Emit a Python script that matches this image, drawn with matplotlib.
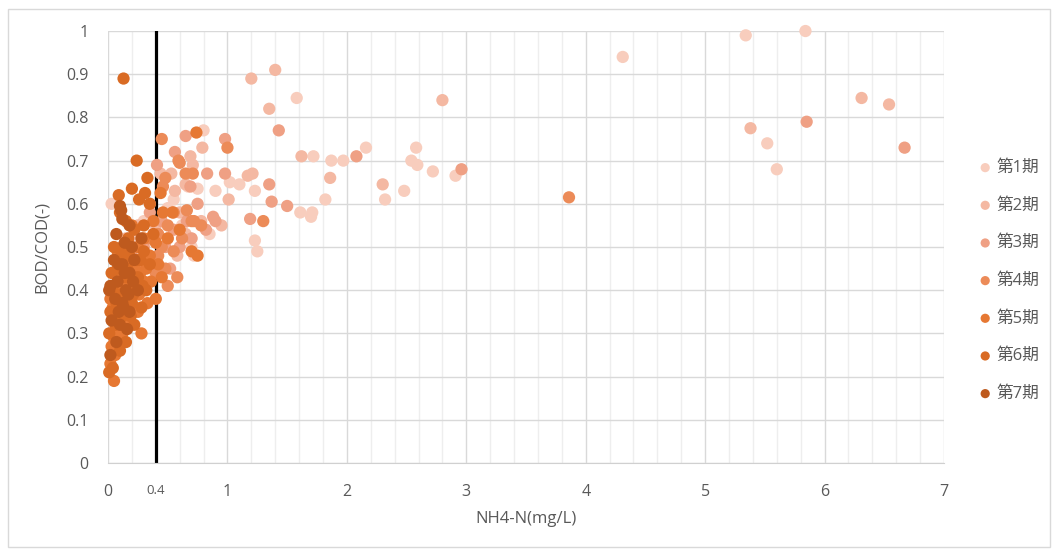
import numpy as np
import matplotlib.pyplot as plt
from matplotlib.patches import Rectangle

plt.rcParams['font.family'] = ['Open Sans', 'Noto Sans CJK JP', 'DejaVu Sans']

labels = ['第1期', '第2期', '第3期', '第4期', '第5期', '第6期', '第7期']
colors = ['#F8CDBD', '#F4B8A2', '#EFA084', '#EC8B58', '#E67833', '#D96B24', '#BE5A1E']

# NH4-N (mg/L), BOD/COD (-) per period
p1 = [(5.84, 1.00), (5.34, 0.99), (4.31, 0.94), (5.52, 0.74), (5.60, 0.68), (2.58, 0.73),
      (2.54, 0.70), (2.59, 0.69), (2.72, 0.675), (2.91, 0.665), (2.48, 0.63), (2.32, 0.61),
      (2.16, 0.73), (1.97, 0.70), (1.87, 0.70), (1.82, 0.61), (1.72, 0.71), (1.61, 0.58),
      (1.71, 0.58), (1.70, 0.57), (1.23, 0.63), (1.10, 0.645), (1.02, 0.65), (1.23, 0.515),
      (1.25, 0.49), (1.58, 0.845), (0.80, 0.77), (0.03, 0.60), (0.67, 0.64), (0.75, 0.635),
      (0.90, 0.63), (0.62, 0.55), (0.70, 0.50), (0.72, 0.48), (0.50, 0.59), (0.55, 0.61),
      (0.85, 0.53), (0.10, 0.44), (0.20, 0.52), (0.30, 0.56)]
p2 = [(1.20, 0.89), (1.40, 0.91), (1.35, 0.82), (2.80, 0.84), (6.31, 0.845), (6.54, 0.83),
      (5.38, 0.775), (1.62, 0.71), (2.30, 0.645), (1.86, 0.66), (1.17, 0.665), (1.21, 0.67),
      (1.01, 0.61), (0.79, 0.73), (0.69, 0.71), (0.71, 0.69), (0.44, 0.67), (0.53, 0.67),
      (0.65, 0.645), (0.56, 0.63), (0.35, 0.60), (0.60, 0.58), (0.78, 0.56), (0.50, 0.52),
      (0.65, 0.53), (0.58, 0.48), (0.40, 0.55), (0.25, 0.55), (0.95, 0.55), (0.15, 0.52)]
p3 = [(1.43, 0.77), (6.67, 0.73), (5.85, 0.79), (2.96, 0.68), (2.08, 0.71), (1.35, 0.645),
      (1.37, 0.605), (1.50, 0.595), (1.19, 0.565), (0.65, 0.757), (0.98, 0.75), (0.56, 0.72),
      (0.41, 0.69), (0.83, 0.67), (0.98, 0.67), (0.69, 0.64), (0.90, 0.56), (0.75, 0.60),
      (0.66, 0.56), (0.55, 0.54), (0.70, 0.52), (0.48, 0.50), (0.60, 0.50), (0.88, 0.57),
      (0.35, 0.58), (0.45, 0.56), (0.30, 0.50), (0.20, 0.48), (0.82, 0.54), (0.52, 0.45)]
p4 = [(3.86, 0.615), (1.30, 0.56), (1.00, 0.73), (0.45, 0.75), (0.59, 0.70), (0.60, 0.695),
      (0.48, 0.66), (0.65, 0.67), (0.46, 0.64), (0.66, 0.585), (0.71, 0.67), (0.55, 0.58),
      (0.72, 0.56), (0.78, 0.55), (0.62, 0.52), (0.70, 0.56), (0.50, 0.55), (0.42, 0.53),
      (0.45, 0.50), (0.55, 0.49), (0.38, 0.47), (0.48, 0.45), (0.58, 0.43), (0.50, 0.41),
      (0.40, 0.44), (0.30, 0.46), (0.22, 0.44), (0.12, 0.47), (0.42, 0.48), (0.35, 0.52)]
p5 = [(0.74, 0.765), (0.44, 0.625), (0.46, 0.58), (0.54, 0.58), (0.40, 0.38), (0.60, 0.54),
      (0.70, 0.49), (0.75, 0.48), (0.50, 0.52), (0.38, 0.56), (0.30, 0.52), (0.25, 0.50),
      (0.35, 0.48), (0.42, 0.46), (0.45, 0.43), (0.30, 0.42), (0.20, 0.40), (0.15, 0.38),
      (0.10, 0.36), (0.05, 0.34), (0.02, 0.38), (0.08, 0.31), (0.12, 0.30), (0.25, 0.35),
      (0.18, 0.33), (0.05, 0.29), (0.03, 0.27), (0.05, 0.19), (0.02, 0.23), (0.06, 0.25),
      (0.28, 0.30), (0.10, 0.44), (0.15, 0.47), (0.22, 0.45), (0.32, 0.45), (0.08, 0.49),
      (0.40, 0.51), (0.20, 0.55), (0.14, 0.42), (0.26, 0.39), (0.33, 0.37), (0.19, 0.45),
      (0.09, 0.40), (0.04, 0.36), (0.17, 0.36), (0.27, 0.44), (0.36, 0.42), (0.13, 0.33)]
p6 = [(0.13, 0.89), (0.24, 0.70), (0.33, 0.66), (0.20, 0.635), (0.31, 0.625), (0.09, 0.62),
      (0.26, 0.61), (0.35, 0.60), (0.10, 0.58), (0.15, 0.56), (0.22, 0.54), (0.30, 0.55),
      (0.38, 0.53), (0.05, 0.50), (0.12, 0.50), (0.18, 0.48), (0.27, 0.47), (0.35, 0.46),
      (0.08, 0.45), (0.15, 0.43), (0.23, 0.42), (0.32, 0.40), (0.04, 0.41), (0.10, 0.39),
      (0.20, 0.37), (0.28, 0.36), (0.02, 0.35), (0.12, 0.34), (0.22, 0.32), (0.06, 0.32),
      (0.15, 0.28), (0.01, 0.30), (0.04, 0.22), (0.01, 0.21), (0.10, 0.26), (0.25, 0.43),
      (0.17, 0.52), (0.30, 0.49), (0.21, 0.39), (0.07, 0.37), (0.16, 0.45), (0.29, 0.41),
      (0.11, 0.48), (0.24, 0.47), (0.03, 0.44), (0.19, 0.34)]
p7 = [(0.10, 0.595), (0.11, 0.585), (0.12, 0.565), (0.18, 0.55), (0.07, 0.53), (0.14, 0.51),
      (0.20, 0.50), (0.28, 0.52), (0.05, 0.47), (0.12, 0.46), (0.18, 0.44), (0.25, 0.40),
      (0.08, 0.42), (0.15, 0.40), (0.02, 0.41), (0.06, 0.38), (0.12, 0.37), (0.18, 0.35),
      (0.03, 0.33), (0.10, 0.32), (0.16, 0.31), (0.02, 0.25), (0.07, 0.28), (0.13, 0.36),
      (0.22, 0.47), (0.09, 0.35), (0.01, 0.40), (0.14, 0.44), (0.21, 0.42), (0.09, 0.46),
      (0.17, 0.39)]
periods = [p1, p2, p3, p4, p5, p6, p7]
threshold = 0.4

fig = plt.figure(figsize=(10.59, 5.51), dpi=100)
ax = fig.add_axes([0.102, 0.1597, 0.7894, 0.784])

# chart frame
fig.patches.append(Rectangle((8 / 1059, 4 / 551), 1042 / 1059, 538 / 551, transform=fig.transFigure,
                             fill=False, edgecolor='#d9d9d9', linewidth=1))

ax.set_xlim(0, 7)
ax.set_ylim(0, 1)
ax.set_xticks(np.arange(0, 8, 1))
ax.set_xticks(np.arange(0, 7.01, 0.2), minor=True)
ax.set_yticks(np.round(np.arange(0, 1.01, 0.1), 1))
ax.set_yticklabels(['0'] + ['%.1f' % v for v in np.arange(0.1, 0.95, 0.1)] + ['1'])
ax.grid(True, which='major', color='#d9d9d9', linewidth=1)
ax.grid(True, which='minor', axis='x', color='#eeeeee', linewidth=1)
ax.set_axisbelow(True)
for s in ['top', 'right', 'left']:
    ax.spines[s].set_visible(False)
ax.spines['bottom'].set_color('#d0d0d0')
ax.tick_params(which='both', length=0, labelsize=11.5, labelcolor='#595959')
ax.tick_params(axis='x', pad=15)
ax.tick_params(axis='y', pad=14)

ax.plot([threshold, threshold], [0, 1], color='black', linewidth=2.3, zorder=1.5)
ax.text(threshold, -0.063, '0.4', ha='center', va='center', fontsize=9.5, color='#595959')

for pts, c, lab in zip(periods, colors, labels):
    x = [p[0] for p in pts]
    y = [p[1] for p in pts]
    ax.scatter(x, y, s=78, color=c, label=lab, edgecolors='none', zorder=3, clip_on=False)

ax.set_xlabel('NH4-N(mg/L)', fontsize=12, color='#595959', labelpad=8)
ax.set_ylabel('BOD/COD(-)', fontsize=12, color='#595959', labelpad=12)

ax.legend(loc='center left', bbox_to_anchor=(0.913, 0.49), bbox_transform=fig.transFigure,
          frameon=False, fontsize=12, labelcolor='#595959', scatterpoints=1,
          markerscale=0.75, handletextpad=0.1, handlelength=1.2, labelspacing=1.3, borderpad=0)

fig.savefig('out.png', dpi=100)
